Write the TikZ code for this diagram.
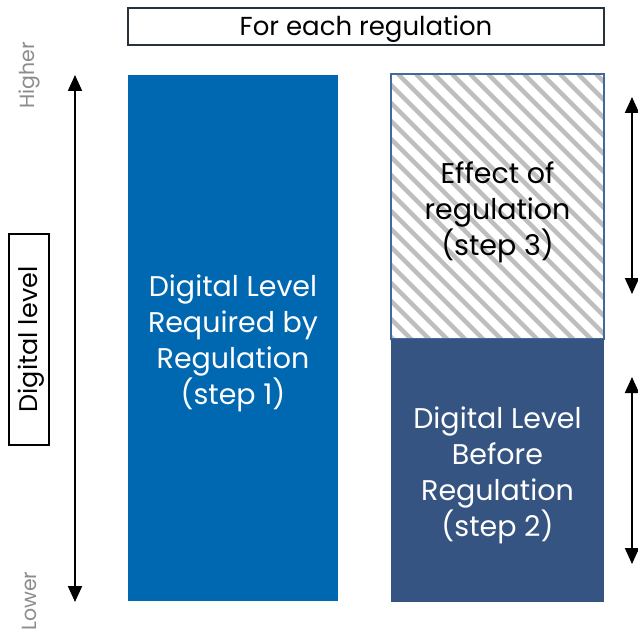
\documentclass[tikz,border=0pt]{standalone}
\usepackage{fontspec}
\setmainfont{Poppins}
\usetikzlibrary{arrows.meta}
\definecolor{regblue}{RGB}{0,103,177}
\definecolor{slate}{RGB}{54,84,130}
\definecolor{edgeblue}{RGB}{65,105,160}
\definecolor{hatchgray}{RGB}{190,190,190}
\definecolor{labelgray}{RGB}{140,140,140}
\definecolor{headline}{RGB}{40,50,60}
\begin{document}
\begin{tikzpicture}[x=1pt,y=-1pt,
  body/.style={font=\fontsize{28.5}{36}\selectfont, align=center, text=white, inner sep=0pt},
  axisarrow/.style={line width=2pt, {Triangle[length=16pt,width=14pt]}-{Triangle[length=16pt,width=14pt]}},
  endlabel/.style={rotate=90, text=labelgray, font=\fontsize{20.5}{20.5}\selectfont, inner sep=0pt}]
\useasboundingbox (0,0) rectangle (638,634);

% heading box
\draw[headline, line width=2pt] (128,8) rectangle (604,45);
\node[inner sep=0pt, font=\fontsize{26}{26}\selectfont] (head) at (366,29) {For each regulation};

% required level column
\fill[regblue] (128,75) rectangle (338,601);
\node[body] (req) at (233,343) {Digital Level\\Required by\\Regulation\\(step 1)};

% effect of regulation: hatched block
\begin{scope}
  \clip (391,74) rectangle (604,339);
  \foreach \s in {110,128,...,620}
    \draw[hatchgray, line width=4.5pt] (\s,74) -- ++(280,280);
\end{scope}
\draw[edgeblue, line width=1.2pt] (391,74) rectangle (604,339);
\node[body, text=black] (effect) at (497.5,212) {Effect of\\regulation\\(step 3)};

% level before regulation
\fill[slate] (391,339) rectangle (604,602);
\node[body] (before) at (497.5,475) {Digital Level\\Before\\Regulation\\(step 2)};

% axis on the left
\coordinate (ltop) at (75,75);
\coordinate (lbot) at (75,602);
\draw[axisarrow] (ltop) -- (lbot);
\node[endlabel] (higher) at (29,75) {Higher};
\node[endlabel] (lower) at (29,601) {Lower};
\draw[line width=2pt] (9,234) rectangle (49,445);
\node[rotate=90, inner sep=0pt, font=\fontsize{25.5}{25.5}\selectfont] (axis) at (31,339.5) {Digital level};

% extents on the right
\coordinate (etop) at (632,97);
\coordinate (ebot) at (632,294);
\coordinate (btop) at (632,377);
\coordinate (bbot) at (632,564);
\draw[axisarrow] (etop) -- (ebot);
\draw[axisarrow] (btop) -- (bbot);
\end{tikzpicture}
\end{document}
